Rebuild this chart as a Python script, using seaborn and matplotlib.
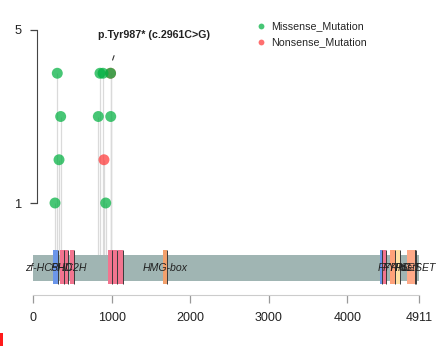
import numpy as np
import pandas as pd
import matplotlib
matplotlib.use("Agg")
import matplotlib.pyplot as plt
from matplotlib.lines import Line2D
from matplotlib.patches import Rectangle
import seaborn as sns

# protein and mutations (KMT2C style lollipop)
PROT_LEN = 4911
mis_pos = [280, 309, 331, 352, 831, 852, 891, 925, 989, 987]
mis_cnt = [1, 4, 2, 3, 3, 4, 4, 1, 3, 4]
non_pos = [903, 987]
non_cnt = [2, 4]

dom_names = ["zf-HC5HC2H", "PHD", "PHD", "PHD", "PHD", "PHD", "PHD", "HMG-box",
             "zf-HC5HC2H", "PHD", "FYRN", "FYRC", "SET", "PostSET"]
dom_start = [258, 343, 392, 471, 958, 1010, 1085, 1654, 4414, 4440, 4541, 4605, 4761, 4860]
dom_end = [322, 392, 441, 525, 1010, 1065, 1141, 1705, 4440, 4490, 4605, 4668, 4859, 4878]
dom_colors = {"zf-HC5HC2H": "#6b96ea", "PHD": "#f2748f", "HMG-box": "#f2a06c",
              "FYRN": "#ffa27a", "FYRC": "#ffe2a6", "SET": "#ffaa88", "PostSET": "#9a6a4c"}

x_ticks = [0, 1000, 2000, 3000, 4000, 4911]
y_ticks = [1, 5]
label_text = "p.Tyr987* (c.2961C>G)"

GREEN = "#00b140"
RED = "#ff3838"

sns.set_style("white")
plt.rcParams["font.family"] = ["Liberation Sans", "DejaVu Sans"]

W, H = 436, 346
fig = plt.figure(figsize=(W / 100, H / 100), dpi=100)
ax = fig.add_axes([0, 0, 1, 1])

# pixel mapping of the reference: 0 -> 33px, 4911 -> 419px ; count 1 -> 203px, 5 -> 30px
sx = PROT_LEN / 386.0
per = 43.25
ax.set_xlim(-33 * sx, (W - 33) * sx)
ax.set_ylim(1 - (H - 203) / per, 1 + 203 / per)

bar_top, bar_bot = 1 - (254.5 - 203) / per, 1 - (281 - 203) / per
dom_top, dom_bot = 1 - (250 - 203) / per, 1 - (283.5 - 203) / per

df = pd.DataFrame({
    "pos": non_pos + mis_pos,
    "count": non_cnt + mis_cnt,
    "type": ["Nonsense_Mutation"] * len(non_pos) + ["Missense_Mutation"] * len(mis_pos),
})

# stems
ax.vlines(df["pos"], bar_top, df["count"], color="#dadada", lw=0.9, zorder=1)

# protein backbone + domains
ax.add_patch(Rectangle((0, bar_bot), PROT_LEN, bar_top - bar_bot,
                       facecolor="#a0b5b3", edgecolor="none", zorder=2))
for nm, s, e in zip(dom_names, dom_start, dom_end):
    ax.add_patch(Rectangle((s, dom_bot), e - s, dom_top - dom_bot,
                           facecolor=dom_colors[nm], edgecolor="none", zorder=3))
    ax.vlines(e, dom_bot, dom_top, color="#3a3a3a", lw=0.7, zorder=4)

seen = set()
for nm, s, e in zip(dom_names, dom_start, dom_end):
    if nm in seen:
        continue
    seen.add(nm)
    ax.text((s + e) / 2, (bar_top + bar_bot) / 2, nm, ha="center", va="center",
            fontsize=7.6, style="italic", color="#222222", zorder=5)

# points
sns.scatterplot(data=df, x="pos", y="count", hue="type",
                palette={"Missense_Mutation": GREEN, "Nonsense_Mutation": RED},
                s=62, alpha=0.72, edgecolor="none", legend=False, ax=ax, zorder=6)

# annotation for the nonsense hotspot
ax.annotate("", xy=(1001, 1 + (203 - 62.7) / per), xytext=(1043, 1 + (203 - 53) / per),
            arrowprops=dict(arrowstyle="-", color="#333333", lw=0.8))
ax.text(1540, 1 + (203 - 35) / per, label_text, ha="center", va="center",
        fontsize=7.7, fontweight="bold", color="#222222")

# axes
for side in ["top", "right"]:
    ax.spines[side].set_visible(False)
ax.spines["bottom"].set_position(("data", 1 - (295 - 203) / per))
ax.spines["bottom"].set_bounds(0, PROT_LEN)
ax.spines["bottom"].set_color("#cccccc")
ax.spines["left"].set_position(("data", (36.7 - 33) * sx))
ax.spines["left"].set_bounds(1, 5)
ax.spines["left"].set_color("#444444")
ax.set_xticks(x_ticks)
ax.set_xticklabels([str(t) for t in x_ticks])
ax.set_yticks(y_ticks)
ax.set_yticklabels([str(t) for t in y_ticks])
ax.tick_params(axis="x", bottom=True, direction="out", length=5.5, width=0.9,
               color="#999999", pad=7, labelsize=9, labelcolor="#222222")
ax.tick_params(axis="y", left=True, direction="out", length=4.8, width=0.9,
               color="#444444", pad=6, labelsize=9.2, labelcolor="#222222")
ax.set_xlabel("")
ax.set_ylabel("")
ax.patch.set_alpha(0)

handles = [Line2D([], [], marker="o", ls="", color=GREEN, alpha=0.72, markersize=4.2,
                  markeredgewidth=0, label="Missense_Mutation"),
           Line2D([], [], marker="o", ls="", color=RED, alpha=0.72, markersize=4.2,
                  markeredgewidth=0, label="Nonsense_Mutation")]
ax.legend(handles=handles, loc="upper left", bbox_to_anchor=(256 / W, 1 - 21.5 / H),
          frameon=False, fontsize=7.7, borderpad=0, handlelength=0.9,
          handletextpad=0.5, labelspacing=0.55, borderaxespad=0)

# red crop mark at the bottom-left corner of the original image
fig.patches.append(Rectangle((0, 0), 3.3 / W, 13 / H, transform=fig.transFigure,
                             facecolor="#ff1a1a", edgecolor="none"))

fig.savefig("out.png", dpi=100)
